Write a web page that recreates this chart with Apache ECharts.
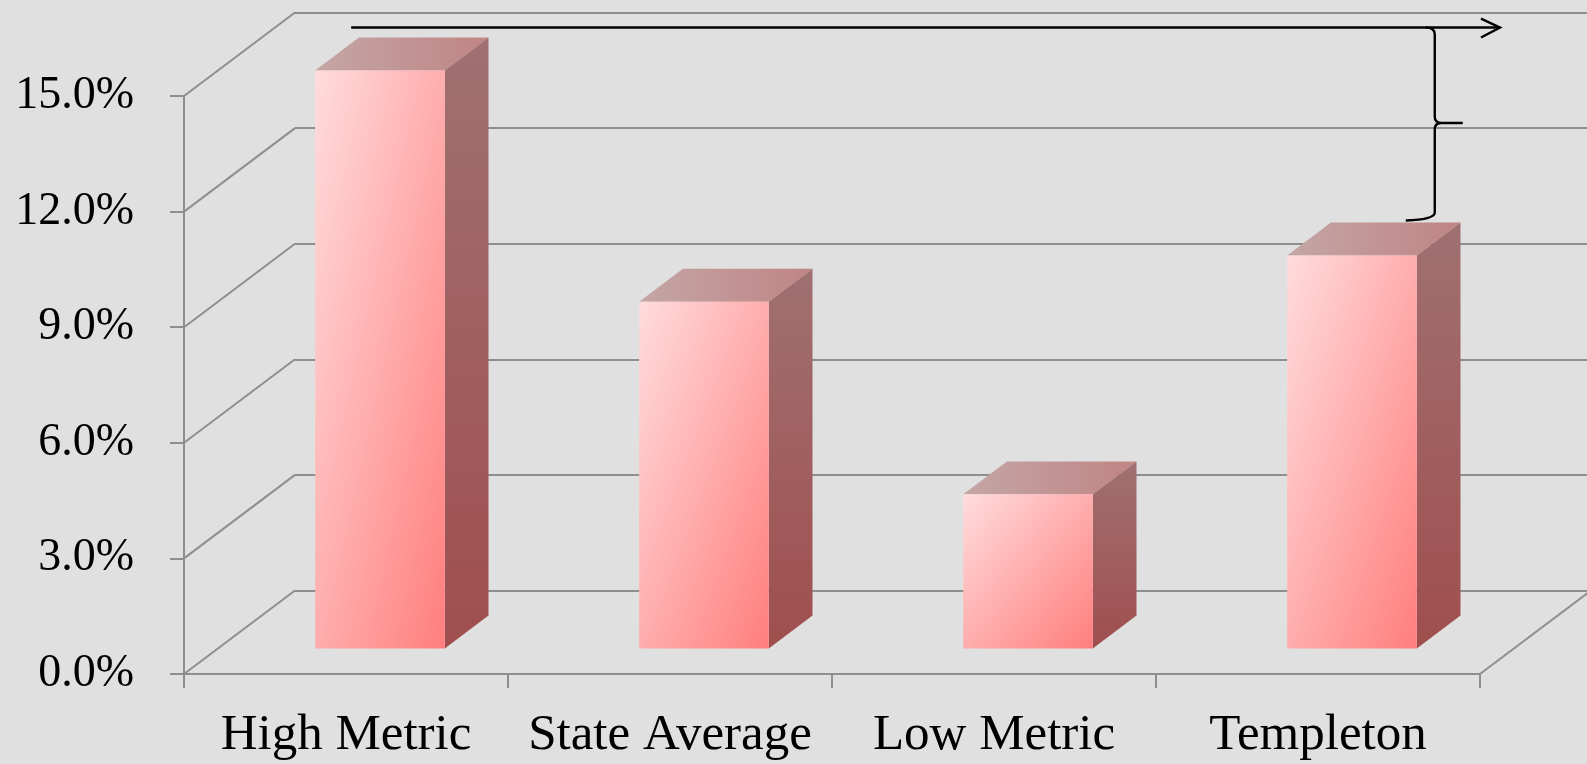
<!DOCTYPE html>
<html>
<head>
<meta charset="utf-8">
<style>
  html, body { margin: 0; padding: 0; background: #e0e0e0; }
  #chart { width: 1587px; height: 764px; }
</style>
<script src="https://cdn.jsdelivr.net/npm/echarts@6.0.0/dist/echarts.min.js"></script>
</head>
<body>
<div id="chart"></div>
<script>
// data (percent)
const categories = ['High Metric', 'State Average', 'Low Metric', 'Templeton'];
const values = [15.0, 9.0, 4.0, 10.2];
const yTicks = [0, 3, 6, 9, 12, 15];

// fake 3d: how far the back wall sits from the front plane
const DX = 111;
const DY = -83.5;
const FRONT = 0.306; // bar front face depth
const BACK = 0.70;   // bar back face depth
const BAR_RATIO = 0.4;
const GRID_COLOR = '#8e8e8e';
const FONT = '"Liberation Serif", "Times New Roman", serif';

const chart = echarts.init(document.getElementById('chart'));

const renderWalls = (params, api) => {
  const cs = params.coordSys;
  const v = api.value(0);
  const y = api.coord([0, v])[1];
  const children = [{
    type: 'line',
    shape: { x1: cs.x, y1: y, x2: cs.x + DX, y2: y + DY },
    style: { stroke: GRID_COLOR, lineWidth: 2 }
  }];
  if (v === 0) {
    // right edge of the floor
    children.push({
      type: 'line',
      shape: { x1: cs.x + cs.width, y1: y, x2: cs.x + cs.width + DX, y2: y + DY },
      style: { stroke: GRID_COLOR, lineWidth: 2 }
    });
  }
  return { type: 'group', children };
};

// diagonal gradient like office shapes: corners top-right and bottom-left get the same tone
const faceGradient = (x, y, w, h) => {
  const k = 2 * w * h / (w * w + h * h);
  return new echarts.graphic.LinearGradient(x, y, x + h * k, y + w * k, [
    { offset: 0, color: '#ffdcdc' },
    { offset: 1, color: '#ff7e7e' }
  ], true);
};

const renderBar = (params, api) => {
  const idx = api.value(0);
  const base = api.coord([idx, 0]);
  const top = api.coord([idx, api.value(1)]);
  const w = api.size([1, 0])[0] * BAR_RATIO;
  const fx = DX * FRONT, fy = DY * FRONT;
  const bx = DX * (BACK - FRONT), by = DY * (BACK - FRONT);
  const l = base[0] - w / 2 + fx;
  const r = base[0] + w / 2 + fx;
  const yb = base[1] + fy;
  const yt = top[1] + fy;
  return {
    type: 'group',
    children: [
      {
        type: 'polygon',
        shape: { points: [[l, yt], [r, yt], [r + bx, yt + by], [l + bx, yt + by]] },
        style: {
          fill: new echarts.graphic.LinearGradient(0, 0, 1, 0, [
            { offset: 0, color: '#c4a6a6' },
            { offset: 1, color: '#c08484' }
          ])
        }
      },
      {
        type: 'polygon',
        shape: { points: [[r, yt], [r + bx, yt + by], [r + bx, yb + by], [r, yb]] },
        style: {
          fill: new echarts.graphic.LinearGradient(0, 0, 0, 1, [
            { offset: 0, color: '#a07070' },
            { offset: 1, color: '#a04e4e' }
          ])
        }
      },
      {
        type: 'rect',
        shape: { x: l, y: yt, width: r - l, height: yb - yt },
        style: { fill: faceGradient(l, yt, r - l, yb - yt) }
      }
    ]
  };
};

// arrow along the top and a brace from it down to the Templeton bar
const renderNote = (params, api) => {
  const cs = params.coordSys;
  const bandW = api.size([1, 0])[0];
  const barW = bandW * BAR_RATIO;
  const highTop = api.coord([0, values[0]])[1] + DY * BACK;
  const arrowY = highTop - 10;
  const arrowX0 = api.coord([0, 0])[0] - barW / 2 + DX * FRONT + 36;
  const arrowX1 = cs.x + cs.width + 20;
  const braceX = api.coord([3, 0])[0] + barW / 2 + DX * FRONT + 18;
  const braceBot = api.coord([3, values[3]])[1] + DY * BACK - 4;
  const braceMid = (arrowY + braceBot) / 2;
  const bracePath = [
    'M', braceX - 9, arrowY,
    'Q', braceX, arrowY, braceX, arrowY + 7,
    'L', braceX, braceMid - 6,
    'Q', braceX, braceMid, braceX + 7, braceMid,
    'L', braceX + 28, braceMid,
    'M', braceX + 7, braceMid,
    'Q', braceX, braceMid, braceX, braceMid + 6,
    'L', braceX, braceBot - 6,
    'Q', braceX, braceBot + 1, braceX - 29, braceBot + 2
  ].join(' ');
  const pen = { stroke: '#000', lineWidth: 2.4, fill: null };
  return {
    type: 'group',
    children: [
      { type: 'line', shape: { x1: arrowX0, y1: arrowY, x2: arrowX1, y2: arrowY }, style: pen },
      {
        type: 'polyline',
        shape: { points: [[arrowX1 - 19, arrowY - 9], [arrowX1, arrowY], [arrowX1 - 19, arrowY + 10]] },
        style: pen
      },
      { type: 'path', shape: { pathData: bracePath }, style: pen }
    ]
  };
};

chart.setOption({
  backgroundColor: '#e0e0e0',
  animation: false,
  grid: [
    { left: 184, right: 107, top: 96, bottom: 90 },
    { left: 184 + DX, right: 107 - DX, top: 96 + DY, bottom: 90 - DY }
  ],
  xAxis: [
    {
      type: 'category',
      gridIndex: 0,
      data: categories,
      axisLine: { lineStyle: { color: GRID_COLOR, width: 2 } },
      axisTick: { show: true, length: 14, lineStyle: { color: GRID_COLOR, width: 2 } },
      axisLabel: { interval: 0, margin: 36, fontFamily: FONT, fontSize: 51, color: '#000' }
    },
    {
      type: 'category',
      gridIndex: 1,
      data: categories,
      show: false
    }
  ],
  yAxis: [
    {
      type: 'value',
      gridIndex: 0,
      min: 0,
      max: 15,
      interval: 3,
      axisLine: { show: true, lineStyle: { color: GRID_COLOR, width: 2 } },
      axisTick: { show: true, length: 14, lineStyle: { color: GRID_COLOR, width: 2 } },
      splitLine: { show: false },
      axisLabel: {
        margin: 50,
        fontFamily: FONT,
        fontSize: 46,
        color: '#000',
        formatter: (v) => v.toFixed(1) + '%'
      }
    },
    {
      type: 'value',
      gridIndex: 1,
      min: 0,
      max: 15,
      interval: 3,
      axisLine: { show: false },
      axisTick: { show: false },
      axisLabel: { show: false },
      splitLine: { show: true, lineStyle: { color: GRID_COLOR, width: 2 } }
    }
  ],
  series: [
    {
      type: 'custom',
      name: 'walls',
      xAxisIndex: 0,
      yAxisIndex: 0,
      renderItem: renderWalls,
      data: yTicks.map((v) => [v]),
      z: 1,
      silent: true
    },
    {
      type: 'custom',
      name: 'bars',
      xAxisIndex: 0,
      yAxisIndex: 0,
      renderItem: renderBar,
      data: values.map((v, i) => [i, v]),
      z: 5
    },
    {
      type: 'custom',
      name: 'note',
      xAxisIndex: 0,
      yAxisIndex: 0,
      renderItem: renderNote,
      data: [[0, 0]],
      clip: false,
      z: 10,
      silent: true
    }
  ]
});
</script>
</body>
</html>
